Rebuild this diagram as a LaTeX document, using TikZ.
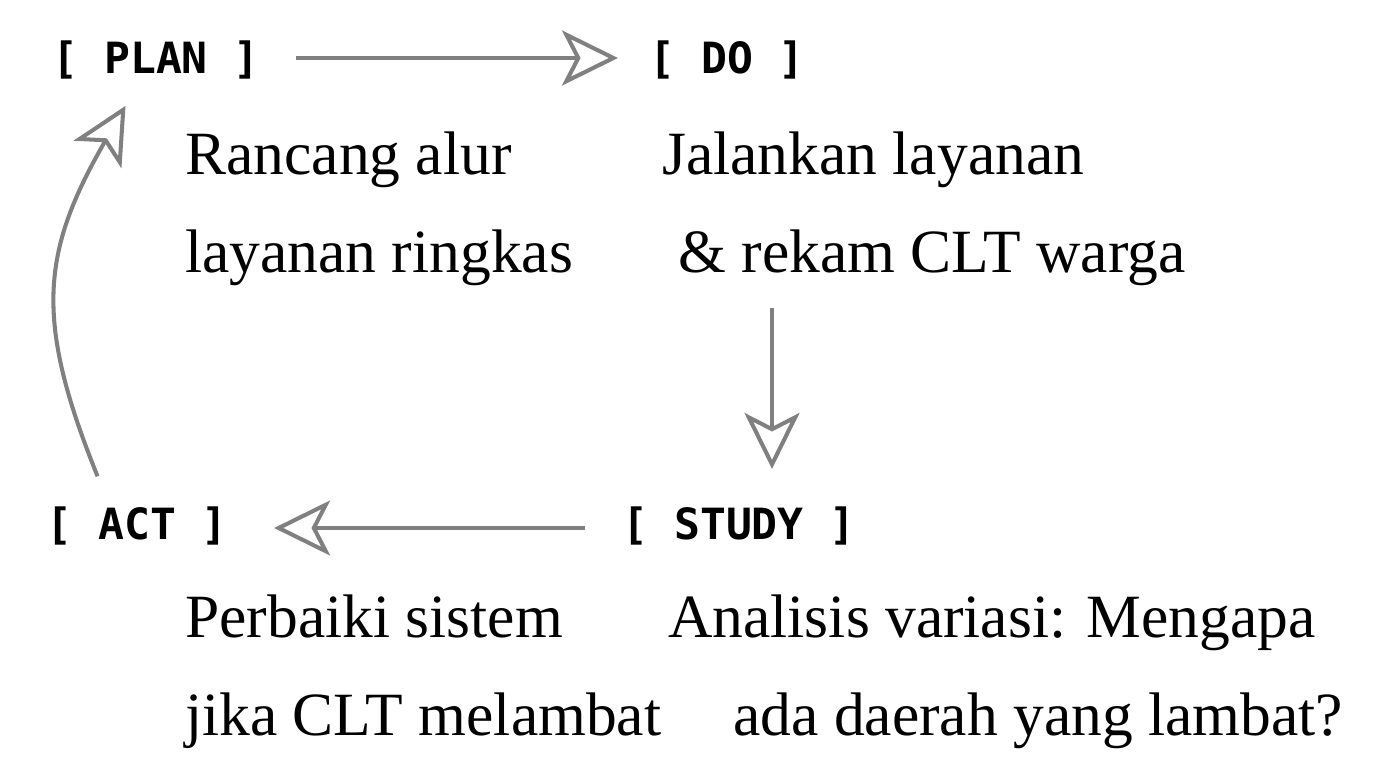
\documentclass[tikz,border=0pt]{standalone}
\usepackage{fontspec}
\setmainfont{Liberation Serif}
\setmonofont{DejaVu Sans Mono}
\usepackage{tikz}
\usetikzlibrary{positioning,calc,arrows.meta}
\definecolor{flowgray}{RGB}{128,128,128}

\begin{document}
\begin{tikzpicture}[x=0.02cm, y=-0.02cm,
    phase/.style={inner sep=0, anchor=base west, font=\fontsize{24.5}{29}\selectfont\ttfamily\bfseries},
    note/.style={inner sep=0, anchor=base west, font=\fontsize{35}{42}\selectfont},
    flow/.style={draw=flowgray, line width=2.3pt,
        -{Stealth[open, length=1.12cm, width=1.1cm, inset=0.28cm]}}]
    \useasboundingbox (0,0) rectangle (1380,768);

    % Phase labels
    \node (plan)  at (52,73)   [phase] {[ PLAN ]};
    \node (do)    at (649,73)  [phase] {[ DO ]};
    \node (act)   at (46,539)  [phase] {[ ACT ]};
    \node (study) at (622,539) [phase] {[ STUDY ]};

    % Notes under each phase
    \node (plan1)  at (185,174) [note] {Rancang alur};
    \node (plan2)  at (185,272) [note] {layanan ringkas};
    \node (do1)    at (662,174) [note] {Jalankan layanan};
    \node (do2)    at (678,272) [note] {\& rekam CLT warga};
    \node (act1)   at (185,637) [note] {Perbaiki sistem};
    \node (act2)   at (185,735) [note] {jika CLT melambat};
    \node (study1) at (668,637) [note] {Analisis variasi: Mengapa};
    \node (study2) at (733,735) [note] {ada daerah yang lambat?};

    % Cycle
    \draw[flow, shorten <=0.72cm, shorten >=0.62cm]
        ([yshift=0.03cm]plan.east) -- ([yshift=0.03cm]do.west);
    \draw[flow, shorten <=0.44cm, shorten >=0.74cm] (do2.south -| 772,0) -- (study.north -| 772,0);
    \draw[flow, shorten <=0.74cm, shorten >=0.92cm]
        ([yshift=-0.05cm]study.west) -- ([yshift=-0.05cm]act.east);
    \draw[flow, shorten <=0.64cm, shorten >=0.62cm]
        ([xshift=-0.55cm]act.north) to[out=112, in=240, looseness=1.2] ([xshift=-0.3cm]plan.south);
\end{tikzpicture}
\end{document}
